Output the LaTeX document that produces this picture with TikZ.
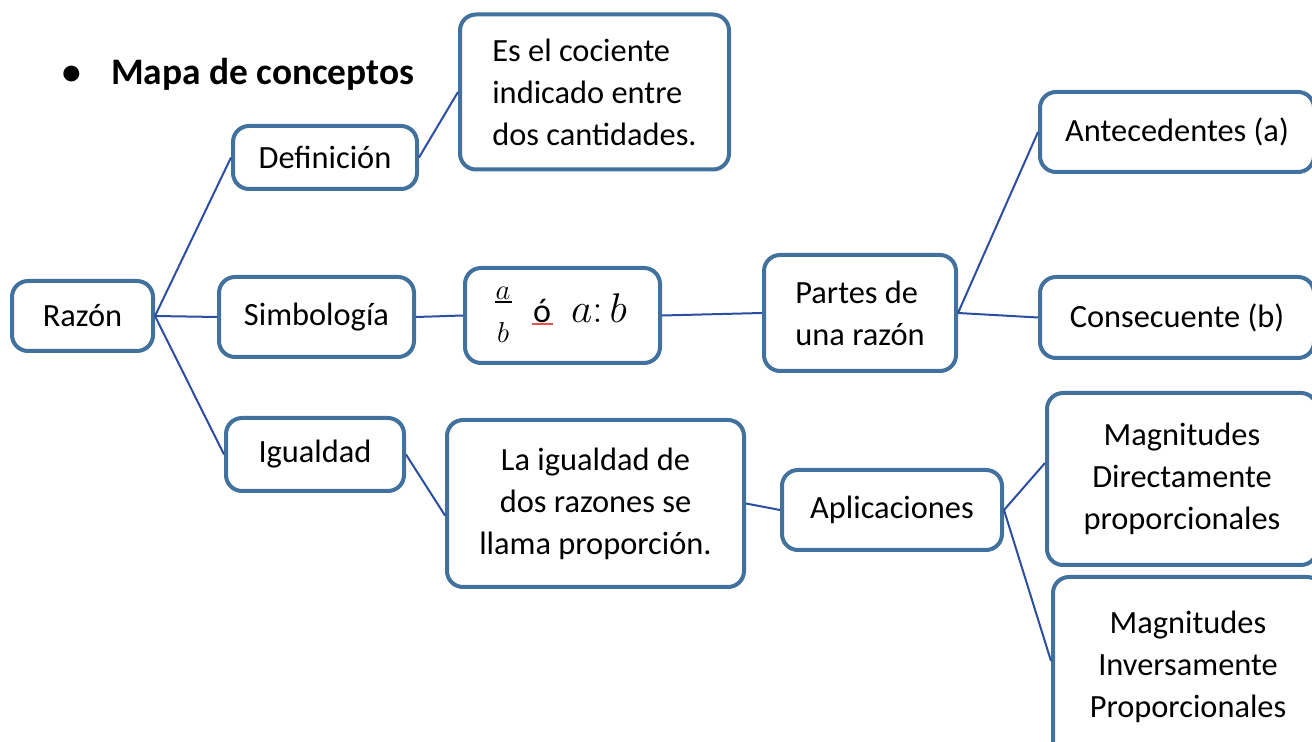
\documentclass[tikz,border=0pt]{standalone}
\usepackage{fontspec}
\setmainfont{Carlito}
\definecolor{boxc}{RGB}{65,113,156}
\definecolor{linec}{RGB}{44,78,160}
\definecolor{spellred}{RGB}{230,80,80}
\tikzset{
  cbox/.style={draw=boxc, line width=2pt, rounded corners=8pt, fill=white, inner sep=0pt,
    font=\fontsize{16.2}{21}\selectfont, align=center},
  sz/.style 2 args={minimum width={#1*0.5pt}, minimum height={#2*0.5pt}},
  conn/.style={draw=linec, line width=1pt},
  ftxt/.style={inner sep=0pt}
}
\begin{document}
\begin{tikzpicture}[x=0.5pt,y=-0.5pt]
\useasboundingbox (0,0) rectangle (1312,742);
\clip (0,0) rectangle (1312,742);
% title
\node[anchor=west, inner sep=0pt, font=\fontsize{18.7}{21}\selectfont\bfseries] (title) at (62,74) {\textbullet\hspace{15pt}Mapa de conceptos};
% nodes
\node[cbox, sz={141}{70}] (razon) at (82.5,316) {Razón};
\node[cbox, sz={184}{63}] (def) at (325,157.5) {Definición};
\node[cbox, sz={269}{155}, align=left] (cociente) at (594.5,92) {Es el cociente\\indicado entre\\dos cantidades.};
\node[cbox, sz={195}{95}] (simb) at (316.5,317) [sz={195}{80}] {Simbología};
\node[cbox, sz={195}{95}] (formula) at (562.5,315.5) {};
\node[ftxt, font=\fontsize{14.4}{16}\selectfont] (fa) at (503,293) {$a$};
\node[ftxt, font=\fontsize{14.4}{16}\selectfont] (fb) at (503,333) {$b$};
\draw[line width=0.9pt] (495,302) -- (512,302);
\node[ftxt, font=\fontsize{17}{18}\selectfont] (fo) at (542,311) {ó};
\node[ftxt, font=\fontsize{20.74}{22}\selectfont] (fab) at (599,308) {$a{:}\,b$};
% spell-check underline under ó
\draw[spellred, line width=0.9pt] (532,324) -- (553,324);
\node[cbox, sz={192}{116}, align=left] (partes) at (860,313) {Partes de\\una razón};
\node[cbox, sz={274}{80}] (ante) at (1177,132) {Antecedentes (a)};
\node[cbox, sz={274}{81}] (cons) at (1177,317.5) {Consecuente (b)};
\node[cbox, sz={178}{73}] (igual) at (315,454.5) {Igualdad};
\node[cbox, sz={297}{167}] (laig) at (595.5,503.5) {La igualdad de\\dos razones se\\llama proporción.};
\node[cbox, sz={220}{80}] (aplic) at (892,510) {Aplicaciones};
\node[cbox, sz={270}{172}] (magdir) at (1182,479) {Magnitudes\\Directamente\\proporcionales};
\node[cbox, sz={270}{180}] (maginv) at (1188,667) {Magnitudes\\Inversamente\\Proporcionales};
% connectors
\draw[conn] (razon.east) -- (def.west);
\draw[conn] (razon.east) -- (simb.west);
\draw[conn] (razon.east) -- (igual.west);
\draw[conn] (def.east) -- (cociente.west);
\draw[conn] (simb.east) -- (formula.west);
\draw[conn] (formula.east) -- (partes.west);
\draw[conn] (partes.east) -- (ante.west);
\draw[conn] (partes.east) -- (cons.west);
\draw[conn] (igual.east) -- ([yshift=-6pt]laig.west);
\draw[conn] (laig.east) -- (aplic.west);
\draw[conn] (aplic.east) -- ([yshift=8pt]magdir.west);
\draw[conn] (aplic.east) -- ([yshift=3pt]maginv.west);
\end{tikzpicture}
\end{document}
